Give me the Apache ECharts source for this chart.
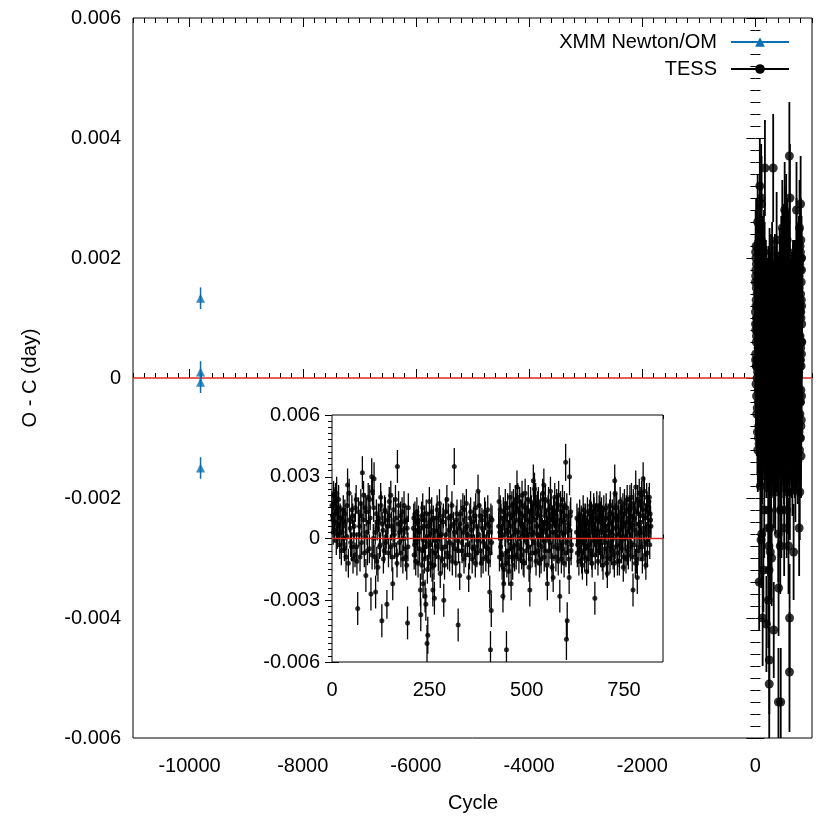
<!DOCTYPE html>
<html>
<head>
<meta charset="utf-8">
<script src="https://cdn.jsdelivr.net/npm/echarts@6/dist/echarts.min.js"></script>
<style>
  html, body { margin: 0; padding: 0; background: #fff; }
  #chart { width: 830px; height: 830px; }
</style>
</head>
<body>
<div id="chart"></div>
<script>
// O-C values in units of 0.001 day: [cycle, O-C, error]
const xmmPoints = [
  [-9806, 1.33, 0.18],
  [-9806, 0.10, 0.18],
  [-9806, -0.07, 0.18],
  [-9806, -1.50, 0.18]
];

// TESS, sector 1
const tessS1 = [
  [0, 1.6, 0.7], [2, 0.9, 0.6], [4, 2.1, 0.7], [6, 0.4, 0.6], [8, 1.8, 0.7], [10, 1.2, 0.6],
  [12, 2.2, 0.8], [14, 0.2, 0.7], [16, 1.5, 0.6], [18, 0.7, 0.7], [20, -0.3, 0.7], [23, 1.0, 0.6],
  [26, 0.3, 0.7], [29, 1.4, 0.7], [32, -0.5, 0.6], [35, 0.8, 0.7], [38, 0.1, 0.6], [40, 2.6, 0.8],
  [42, -1.2, 0.7], [44, 2.2, 0.7], [47, 0.5, 0.6], [50, -0.4, 0.7], [53, 1.1, 0.6], [56, 0.2, 0.7],
  [59, -0.8, 0.6], [62, 1.9, 0.7], [64, -1.1, 0.7], [66, -3.4, 0.8], [68, 1.3, 0.7], [71, 0.6, 0.6],
  [74, 1.7, 0.7], [76, -0.2, 0.6], [78, 3.2, 0.8], [80, 0.9, 0.7], [83, -0.7, 0.7], [85, 1.5, 0.7],
  [87, -1.8, 0.8], [90, 0.3, 0.6], [93, 2.0, 0.7], [96, -0.5, 0.7], [98, 1.0, 0.6], [100, -2.7, 0.8],
  [102, 3.0, 0.9], [104, 2.3, 0.7], [106, 0.0, 0.7], [108, 2.9, 0.8], [110, -0.9, 0.6], [112, -2.6, 0.8],
  [114, 1.2, 0.7], [116, 0.5, 0.6], [118, -1.4, 0.7], [121, 0.8, 0.7], [124, -0.3, 0.6], [126, 1.6, 0.7],
  [128, -4.0, 0.8], [131, 0.4, 0.7], [134, -0.6, 0.6], [137, 1.3, 0.7], [139, 0.1, 0.6], [141, -3.2, 0.7],
  [144, 0.9, 0.7], [147, 1.8, 0.7], [150, -0.4, 0.6], [153, 0.6, 0.7], [156, -2.2, 0.8], [158, 1.4, 0.6],
  [160, 0.2, 0.7], [163, 1.9, 0.7], [166, -0.8, 0.6], [168, 3.5, 0.8], [170, 0.7, 0.7], [173, -0.2, 0.6],
  [176, 1.1, 0.7], [179, 0.4, 0.6], [182, -1.0, 0.7], [185, 1.6, 0.7], [188, -0.5, 0.6], [190, 0.9, 0.7],
  [192, -1.3, 0.7], [194, -4.1, 0.8], [196, 1.5, 0.7],
  [1, 1.1, 0.7], [3, 0.3, 0.6], [5, 1.7, 0.7], [7, 0.8, 0.6], [9, 2.0, 0.7], [11, -0.1, 0.7],
  [13, 1.3, 0.6], [15, 0.6, 0.7], [17, 1.9, 0.7], [19, 0.2, 0.6], [21, 1.0, 0.7], [24, -0.6, 0.7],
  [27, 0.9, 0.6], [30, 0.0, 0.7], [33, 1.2, 0.7], [36, -0.9, 0.7], [39, 1.6, 0.7], [45, 0.9, 0.6],
  [48, -0.2, 0.7], [51, 1.4, 0.7], [54, -1.0, 0.7], [57, 0.6, 0.6], [60, 1.5, 0.7], [63, -0.4, 0.7],
  [69, 0.2, 0.6], [72, -0.9, 0.7], [75, 1.1, 0.7], [81, 2.1, 0.7], [84, 0.1, 0.6], [88, 1.3, 0.7],
  [91, -0.6, 0.7], [94, 0.8, 0.6], [97, 1.9, 0.7], [103, -0.8, 0.7], [107, 1.5, 0.7], [111, 0.3, 0.6],
  [115, -1.1, 0.7], [119, 1.0, 0.7], [122, -0.4, 0.6], [125, 2.0, 0.7], [129, 0.7, 0.6], [132, -1.0, 0.7],
  [135, 1.4, 0.7], [138, -0.2, 0.6], [142, 0.6, 0.7], [145, -0.7, 0.7], [148, 1.1, 0.6], [151, 2.1, 0.7],
  [154, -0.9, 0.7], [157, 0.4, 0.6], [161, -0.3, 0.7], [164, 1.0, 0.7], [167, -1.2, 0.7], [171, 1.6, 0.7],
  [174, 0.3, 0.6], [177, -0.7, 0.7], [180, 1.3, 0.7], [183, 0.0, 0.6], [186, 0.8, 0.7], [189, -0.9, 0.7],
  [193, 0.5, 0.6], [195, -0.4, 0.7]
];

// TESS, sector 2
const tessS2 = [
  [209, 0.5, 0.7], [211, -0.8, 0.7], [213, 1.2, 0.6], [216, -0.2, 0.7], [219, 0.8, 0.6], [221, -1.2, 0.7],
  [224, 0.3, 0.7], [227, -2.5, 0.8], [228, -3.7, 0.8], [230, 1.1, 0.7], [232, -0.6, 0.6], [234, -2.2, 0.7],
  [236, 0.6, 0.7], [239, -2.8, 0.8], [241, -3.2, 0.8], [243, 0.1, 0.6], [244, -5.1, 0.9], [246, -4.7, 0.9],
  [248, -0.9, 0.7], [250, 1.8, 0.7], [252, -0.3, 0.6], [255, 0.9, 0.7], [257, -1.4, 0.7], [259, -2.5, 0.8],
  [261, 0.4, 0.6], [263, -2.9, 0.8], [265, -0.7, 0.7], [268, 1.0, 0.7], [271, -0.1, 0.6], [274, 0.6, 0.7],
  [276, 1.7, 0.7], [278, -1.7, 0.7], [280, 0.2, 0.6], [283, -1.0, 0.7], [285, 0.8, 0.7], [287, -3.0, 0.8],
  [290, -0.4, 0.6], [292, 1.3, 0.7], [295, 1.9, 0.7], [297, -0.9, 0.6], [300, 0.4, 0.7], [303, -0.2, 0.6],
  [306, 1.1, 0.7], [309, -1.1, 0.7], [312, 0.7, 0.6], [314, 3.5, 0.9], [316, -0.5, 0.7], [319, 0.9, 0.7],
  [322, -0.1, 0.6], [324, -4.2, 0.8], [326, 0.5, 0.7], [328, -1.8, 0.7], [331, 1.2, 0.7], [334, -0.6, 0.6],
  [337, 0.3, 0.7], [340, 1.4, 0.7], [343, -0.8, 0.6], [346, 0.6, 0.7], [348, -0.3, 0.6], [351, -1.9, 0.7],
  [354, 1.0, 0.7], [357, 0.1, 0.6], [360, -1.0, 0.7], [363, 0.8, 0.7], [366, -0.4, 0.6], [369, 1.5, 0.7],
  [372, -0.7, 0.7], [375, 2.3, 0.8], [377, 0.2, 0.7], [380, 1.1, 0.6], [383, -1.2, 0.7], [386, 0.5, 0.7],
  [389, -0.2, 0.6], [392, 1.3, 0.7], [395, -0.9, 0.7], [398, 0.7, 0.6], [401, -0.5, 0.7], [403, 0.3, 0.6],
  [405, -2.6, 0.8], [407, -5.4, 0.9], [409, -3.5, 0.8], [411, 0.9, 0.7],
  [210, 1.0, 0.7], [212, -0.3, 0.6], [214, 0.4, 0.7], [215, -1.1, 0.7], [218, 1.3, 0.7], [220, 0.0, 0.6],
  [222, 0.9, 0.7], [225, -0.5, 0.7], [229, 0.5, 0.6], [231, -1.3, 0.7], [233, 1.5, 0.7], [235, -0.1, 0.6],
  [237, -1.0, 0.7], [238, 0.9, 0.7], [240, -0.4, 0.6], [242, 1.2, 0.7], [245, -1.5, 0.7], [247, 0.6, 0.7],
  [249, -0.2, 0.6], [251, 0.8, 0.7], [253, -1.2, 0.7], [254, 0.2, 0.6], [256, 1.3, 0.7], [258, -0.6, 0.7],
  [260, 1.0, 0.6], [262, -1.3, 0.7], [264, 0.3, 0.7], [267, -0.4, 0.6], [270, 1.4, 0.7], [273, -0.9, 0.7],
  [277, 0.1, 0.6], [279, 0.9, 0.7], [282, -0.5, 0.7], [286, 1.1, 0.6], [289, -1.3, 0.7], [293, 0.2, 0.7],
  [296, -0.7, 0.6], [299, 1.0, 0.7], [302, -0.9, 0.7], [305, 0.6, 0.6], [308, 1.6, 0.7], [311, -0.3, 0.7],
  [315, 0.3, 0.6], [318, -1.2, 0.7], [321, 1.2, 0.7], [325, -0.6, 0.6], [329, 0.7, 0.7], [333, -0.2, 0.7],
  [336, 1.5, 0.7], [339, -1.0, 0.7], [342, 0.5, 0.6], [345, 1.7, 0.7], [349, 0.2, 0.6], [353, -0.8, 0.7],
  [356, 1.3, 0.7], [359, 0.4, 0.6], [362, -0.5, 0.7], [365, 1.1, 0.7], [368, -1.2, 0.7], [371, 0.6, 0.6],
  [374, -0.1, 0.7], [378, 1.6, 0.7], [381, -0.6, 0.7], [385, 0.9, 0.6], [388, -1.0, 0.7], [391, 0.1, 0.6],
  [394, 1.1, 0.7], [397, -0.4, 0.7], [400, 1.4, 0.7], [402, -1.1, 0.7], [404, 0.6, 0.6], [406, -0.7, 0.7],
  [408, 1.0, 0.7], [410, -0.2, 0.6]
];

// TESS, sector 3
const tessS3 = [
  [428, 0.6, 0.7], [430, -0.9, 0.7], [432, 1.4, 0.7], [435, 0.1, 0.6], [437, -1.3, 0.7], [439, -2.8, 0.8],
  [441, -2.2, 0.8], [443, 0.9, 0.7], [445, 1.7, 0.7], [448, -5.4, 0.9], [450, 0.4, 0.6], [452, -0.6, 0.7],
  [454, -1.6, 0.7], [456, 1.2, 0.7], [458, 0.0, 0.6], [460, -2.2, 0.8], [462, 1.6, 0.7], [465, -0.4, 0.7],
  [468, 0.8, 0.6], [471, 1.9, 0.7], [473, -0.8, 0.7], [475, 2.5, 0.8], [478, 0.3, 0.6], [481, 1.3, 0.7],
  [484, -0.5, 0.7], [486, 0.7, 0.6], [488, 2.1, 0.7], [491, -1.1, 0.7], [494, 0.5, 0.7], [497, 1.5, 0.7],
  [500, -0.2, 0.6], [503, 0.9, 0.7], [506, -1.4, 0.7], [508, -2.5, 0.8], [510, 1.8, 0.7], [513, 0.2, 0.6],
  [515, 1.0, 0.7], [517, 2.8, 0.8], [520, 2.4, 0.8], [522, -0.7, 0.7], [525, 0.6, 0.6], [528, 1.6, 0.7],
  [531, -0.3, 0.6], [534, 1.1, 0.7], [537, -1.0, 0.7], [540, 0.4, 0.6], [542, 1.9, 0.7], [544, 2.6, 0.8],
  [547, -0.6, 0.7], [550, 0.8, 0.6], [553, -2.2, 0.8], [555, 1.4, 0.7], [558, 0.1, 0.6], [561, 2.3, 0.7],
  [564, -0.9, 0.7], [566, 0.9, 0.7], [568, -1.9, 0.7], [571, 1.2, 0.7], [574, 0.3, 0.6], [577, 1.7, 0.7],
  [580, -0.5, 0.7], [583, 0.6, 0.6], [585, -2.8, 0.8], [588, 1.3, 0.7], [591, -0.2, 0.6], [594, 0.9, 0.7],
  [597, 1.6, 0.7], [600, 3.7, 0.9], [602, -4.9, 1.0], [604, -4.0, 0.9], [606, 0.5, 0.7], [609, -1.9, 0.8],
  [610, 3.0, 0.9], [612, 1.1, 0.7], [614, -0.6, 0.7],
  [429, 1.8, 0.7], [431, 0.3, 0.6], [433, -0.4, 0.7], [434, 1.0, 0.7], [436, -0.8, 0.7], [438, 0.5, 0.6],
  [440, 1.3, 0.7], [442, -1.5, 0.7], [444, 0.2, 0.6], [446, -0.7, 0.7], [447, 1.1, 0.7], [449, -1.2, 0.7],
  [451, 1.5, 0.7], [453, 0.3, 0.6], [455, -0.9, 0.7], [457, 2.0, 0.7], [459, 0.6, 0.6], [461, -0.5, 0.7],
  [463, 1.0, 0.7], [464, -1.3, 0.7], [466, 1.7, 0.7], [467, 0.2, 0.6], [469, -0.9, 0.7], [470, 1.2, 0.7],
  [472, 0.4, 0.6], [474, 1.5, 0.7], [476, -0.3, 0.7], [477, 2.0, 0.7], [479, 0.9, 0.6], [480, -1.0, 0.7],
  [482, 1.8, 0.7], [483, 0.0, 0.6], [485, 1.2, 0.7], [487, -0.8, 0.7], [489, 0.6, 0.6], [490, 1.6, 0.7],
  [492, 0.2, 0.6], [493, -1.2, 0.7], [495, 1.1, 0.7], [496, 2.2, 0.7], [498, 0.4, 0.6], [499, -0.6, 0.7],
  [501, 1.3, 0.7], [502, 0.1, 0.6], [504, 1.9, 0.7], [505, -0.4, 0.7], [507, 0.8, 0.6], [509, -1.0, 0.7],
  [511, 0.5, 0.6], [512, 1.4, 0.7], [514, -0.7, 0.7], [516, 0.3, 0.6], [518, 1.7, 0.7], [519, -0.2, 0.6],
  [521, 0.9, 0.7], [523, 2.0, 0.7], [524, -1.1, 0.7], [526, 1.2, 0.7], [527, 0.2, 0.6], [529, -0.6, 0.7],
  [530, 1.8, 0.7], [532, 0.6, 0.6], [533, -1.2, 0.7], [535, 0.1, 0.6], [536, 1.5, 0.7], [538, 0.8, 0.6],
  [539, -0.4, 0.7], [541, 2.2, 0.7], [543, 0.3, 0.6], [545, -0.9, 0.7], [546, 1.1, 0.7], [548, 1.9, 0.7],
  [549, -0.1, 0.6], [551, 0.7, 0.7], [552, -1.3, 0.7], [554, 0.5, 0.6], [556, 1.8, 0.7], [557, -0.6, 0.7],
  [559, 1.0, 0.7], [560, -0.2, 0.6], [562, 0.6, 0.7], [563, 1.5, 0.7], [565, -1.4, 0.7], [567, 0.3, 0.6],
  [569, 1.3, 0.7], [570, -0.4, 0.7], [572, 2.0, 0.7], [573, 0.7, 0.6], [575, -0.9, 0.7], [576, 0.9, 0.7],
  [578, 0.1, 0.6], [579, 1.4, 0.7], [581, -1.1, 0.7], [582, 2.1, 0.7], [584, 0.4, 0.6], [586, -0.3, 0.7],
  [587, 1.6, 0.7], [589, -1.0, 0.7], [590, 0.8, 0.6], [592, 1.9, 0.7], [593, -0.5, 0.7], [595, 0.2, 0.6],
  [596, -1.2, 0.7], [598, 1.1, 0.7], [599, 0.3, 0.6], [601, -0.7, 0.7], [603, 1.5, 0.7], [605, -0.2, 0.6],
  [607, 0.7, 0.7], [608, -1.0, 0.7], [611, 0.4, 0.6], [613, 1.3, 0.7], [615, -0.3, 0.7]
];

// TESS, sector 4
const tessS4 = [
  [628, 0.3, 0.7], [630, -0.7, 0.7], [632, 0.9, 0.6], [635, -0.2, 0.7], [638, 0.6, 0.6], [641, -1.0, 0.7],
  [644, 0.4, 0.7], [647, 1.1, 0.6], [650, -0.5, 0.7], [652, 0.2, 0.6], [654, -1.6, 0.7], [657, 0.8, 0.7],
  [660, -0.3, 0.6], [662, 1.2, 0.7], [664, 1.6, 0.7], [667, -0.8, 0.7], [670, 0.5, 0.6], [673, 1.3, 0.7],
  [675, -2.9, 0.8], [678, 0.0, 0.6], [681, 0.9, 0.7], [684, -0.6, 0.7], [686, 1.4, 0.7], [688, 1.6, 0.7],
  [691, 0.3, 0.6], [694, -0.9, 0.7], [697, 0.7, 0.7], [700, -0.2, 0.6], [703, 1.0, 0.7], [705, -1.2, 0.7],
  [707, -1.7, 0.7], [710, 0.4, 0.6], [713, 1.2, 0.7], [716, -0.4, 0.7], [719, 0.8, 0.6], [722, -0.8, 0.7],
  [724, 1.5, 0.7], [726, 2.8, 0.8], [727, 2.2, 0.8], [730, 0.2, 0.6], [733, -1.1, 0.7], [736, 0.9, 0.7],
  [739, -0.3, 0.6], [742, 1.3, 0.7], [745, 0.5, 0.6], [748, -1.4, 0.7], [751, 1.7, 0.7], [754, 0.1, 0.6],
  [756, 1.4, 0.7], [759, -0.6, 0.7], [762, 1.0, 0.7], [765, 1.9, 0.7], [768, -0.2, 0.6], [770, 0.7, 0.7],
  [773, -2.5, 0.8], [775, 1.5, 0.7], [778, 0.4, 0.6], [780, 2.5, 0.8], [782, -1.0, 0.7], [784, -1.9, 0.8],
  [787, 1.2, 0.7], [790, 0.3, 0.6], [793, 1.8, 0.7], [796, -0.4, 0.7], [799, 2.9, 0.8], [801, 1.1, 0.7],
  [804, -0.8, 0.7], [806, -1.3, 0.7], [809, 1.6, 0.7], [812, 0.6, 0.6], [815, 2.0, 0.7], [818, 0.9, 0.7],
  [629, 1.0, 0.7], [631, -0.3, 0.6], [633, 0.5, 0.7], [634, -1.1, 0.7], [636, 1.2, 0.7], [637, 0.0, 0.6],
  [639, -0.6, 0.7], [640, 0.9, 0.7], [642, 0.2, 0.6], [643, -1.3, 0.7], [645, 1.4, 0.7], [646, -0.2, 0.6],
  [648, 0.6, 0.7], [649, -0.9, 0.7], [651, 1.0, 0.7], [653, 0.4, 0.6], [655, -0.4, 0.7], [656, 1.3, 0.7],
  [658, -1.0, 0.7], [659, 0.1, 0.6], [661, 0.8, 0.7], [663, -0.6, 0.7], [665, 0.3, 0.6], [666, 1.1, 0.7],
  [668, -1.2, 0.7], [669, 0.7, 0.7], [671, -0.1, 0.6], [672, 1.5, 0.7], [674, 0.2, 0.6], [676, -0.8, 0.7],
  [677, 1.0, 0.7], [679, -0.3, 0.6], [680, 1.6, 0.7], [682, 0.4, 0.6], [683, -1.1, 0.7], [685, 0.8, 0.7],
  [687, -0.2, 0.6], [689, 1.1, 0.7], [690, -0.7, 0.7], [692, 1.3, 0.7], [693, 0.0, 0.6], [695, 0.9, 0.7],
  [696, -1.3, 0.7], [698, 1.4, 0.7], [699, 0.3, 0.6], [701, -0.5, 0.7], [702, 0.6, 0.7], [704, 1.5, 0.7],
  [706, 0.1, 0.6], [708, -0.9, 0.7], [709, 1.0, 0.7], [711, -0.2, 0.6], [712, 0.7, 0.7], [714, -1.0, 0.7],
  [715, 1.6, 0.7], [717, 0.3, 0.6], [718, -0.6, 0.7], [720, 1.2, 0.7], [721, 0.0, 0.6], [723, 0.5, 0.7],
  [725, -1.2, 0.7], [728, 1.0, 0.7], [729, -0.4, 0.6], [731, 1.5, 0.7], [732, 0.6, 0.6], [734, -0.7, 0.7],
  [735, 1.1, 0.7], [737, 0.2, 0.6], [738, -1.1, 0.7], [740, 1.8, 0.7], [741, 0.4, 0.6], [743, -0.5, 0.7],
  [744, 1.0, 0.7], [746, -0.1, 0.6], [747, 1.5, 0.7], [749, 0.7, 0.6], [750, -0.9, 0.7], [752, 1.2, 0.7],
  [753, 0.0, 0.6], [755, -1.0, 0.7], [757, 0.8, 0.7], [758, 1.9, 0.7], [760, 0.3, 0.6], [761, -0.8, 0.7],
  [763, 1.4, 0.7], [764, 0.5, 0.6], [766, -0.4, 0.7], [767, 1.1, 0.7], [769, 2.0, 0.7], [771, -0.9, 0.7],
  [772, 0.6, 0.6], [774, 1.7, 0.7], [776, -0.3, 0.6], [777, 1.0, 0.7], [779, -1.2, 0.7], [781, 1.3, 0.7],
  [783, 0.2, 0.6], [785, 1.9, 0.7], [786, -0.6, 0.7], [788, 0.7, 0.6], [789, 2.2, 0.7], [791, -0.4, 0.7],
  [792, 1.1, 0.7], [794, 0.3, 0.6], [795, 2.1, 0.7], [797, -1.0, 0.7], [798, 1.4, 0.7], [800, 0.5, 0.6],
  [802, 2.3, 0.7], [803, -0.2, 0.6], [805, 1.0, 0.7], [807, 0.2, 0.6], [808, 2.0, 0.7], [810, -0.7, 0.7],
  [811, 1.3, 0.7], [813, 0.4, 0.6], [814, 1.8, 0.7], [816, -0.3, 0.7], [817, 1.2, 0.7], [819, 0.6, 0.6]
];

const tessPoints = tessS1.concat(tessS2, tessS3, tessS4);

// tick labels
const mainXTicks = [-10000, -8000, -6000, -4000, -2000, 0];
const insetXTicks = [0, 250, 500, 750];

const mainXMinor = [];
for (let v = -11000; v <= 1000; v += 200) if (mainXTicks.indexOf(v) < 0) mainXMinor.push(v);
const insetXMinor = [];
for (let v = 25; v <= 850; v += 25) if (insetXTicks.indexOf(v) < 0) insetXMinor.push(v);

const FONT = "Liberation Sans";
const BLUE = "#0a6fb3";
const RED = "#dd2a1e";

const fmtDay = v => (v === 0 ? "0" : (v / 1000).toFixed(3));

function xAxisPair(grid, min, max, major, minor, pos, labels, lenMaj, lenMin) {
  return [
    {
      gridIndex: grid, type: "value", min: min, max: max, position: pos,
      axisLine: { show: false }, splitLine: { show: false },
      axisTick: { inside: true, length: lenMaj, customValues: major, lineStyle: { color: "#000" } },
      axisLabel: labels
        ? { show: true, customValues: major, formatter: v => String(v), margin: 18, fontSize: 20, fontFamily: FONT, color: "#000" }
        : { show: false }
    },
    {
      gridIndex: grid, type: "value", min: min, max: max, position: pos,
      axisLine: { show: false }, splitLine: { show: false },
      axisTick: { inside: true, length: lenMin, customValues: minor, lineStyle: { color: "#000" } },
      axisLabel: { show: false }
    }
  ];
}

function yAxisOne(grid, interval, pos, labels, lenMaj, lenMin, extra) {
  return Object.assign({
    gridIndex: grid, type: "value", min: -6, max: 6, interval: interval, position: pos,
    axisLine: { show: false }, splitLine: { show: false },
    axisTick: { inside: true, length: lenMaj, lineStyle: { color: "#000" } },
    minorTick: { show: true, splitNumber: 10, length: lenMin, lineStyle: { color: "#000" } },
    axisLabel: labels
      ? { show: true, formatter: fmtDay, margin: 12, fontSize: 20, fontFamily: FONT, color: "#000" }
      : { show: false }
  }, extra || {});
}

// error bar drawn as a vertical segment, clipped to the plot box
function errorBar(width) {
  return function (params, api) {
    const cs = params.coordSys;
    const x = api.coord([api.value(0), api.value(1)])[0];
    let y1 = api.coord([api.value(0), api.value(1) + api.value(2)])[1];
    let y2 = api.coord([api.value(0), api.value(1) - api.value(2)])[1];
    y1 = Math.max(y1, cs.y);
    y2 = Math.min(y2, cs.y + cs.height);
    if (x < cs.x || x > cs.x + cs.width) return null;
    return {
      type: "line",
      shape: { x1: x, y1: y1, x2: x, y2: y2 },
      style: { stroke: api.visual("color"), lineWidth: width }
    };
  };
}

const chart = echarts.init(document.getElementById("chart"));

chart.setOption({
  animation: false,
  backgroundColor: "#fff",
  textStyle: { fontFamily: FONT },
  grid: [
    { left: 133, top: 18, width: 679, height: 720, show: true, borderColor: "#000", borderWidth: 1, backgroundColor: "#fff" },
    { left: 332, top: 415, width: 331, height: 247, show: true, borderColor: "#000", borderWidth: 1, backgroundColor: "#fff", z: 5 }
  ],
  legend: {
    data: ["XMM Newton/OM", "TESS"],
    orient: "vertical",
    right: 35,
    top: 27,
    align: "right",
    itemWidth: 58,
    itemHeight: 12,
    itemGap: 7,
    textStyle: { fontSize: 20, fontFamily: FONT, color: "#000", padding: [0, 9, 0, 0] },
    selectedMode: false
  },
  xAxis: [].concat(
    xAxisPair(0, -11000, 1000, mainXTicks, mainXMinor, "bottom", true, 9, 5),
    xAxisPair(0, -11000, 1000, mainXTicks, mainXMinor, "top", false, 9, 5),
    xAxisPair(1, 0, 850, insetXTicks, insetXMinor, "bottom", true, 7, 4),
    xAxisPair(1, 0, 850, insetXTicks, insetXMinor, "top", false, 7, 4)
  ),
  yAxis: [
    yAxisOne(0, 2, "left", true, 9, 5, {
      name: "O - C (day)", nameLocation: "middle", nameGap: 93, nameRotate: 90,
      nameTextStyle: { fontSize: 20, fontFamily: FONT, color: "#000" }
    }),
    yAxisOne(0, 2, "right", false, 9, 5),
    yAxisOne(1, 3, "left", true, 7, 4),
    yAxisOne(1, 3, "right", false, 7, 4)
  ],
  graphic: [
    { type: "text", left: 448, top: 793, style: { text: "Cycle", font: "20px " + FONT, fill: "#000" } }
  ],
  series: [
    // zero lines
    {
      name: "zero", type: "line", xAxisIndex: 0, yAxisIndex: 0, symbol: "none", z: 1,
      data: [[-11000, 0], [1000, 0]], lineStyle: { color: RED, width: 1.5 }
    },
    {
      name: "zero inset", type: "line", xAxisIndex: 4, yAxisIndex: 2, symbol: "none", z: 9,
      data: [[0, 0], [850, 0]], lineStyle: { color: RED, width: 1.5 }
    },
    // legend entries
    {
      name: "XMM Newton/OM", type: "line", data: [], symbol: "triangle", symbolSize: 8,
      itemStyle: { color: BLUE }, lineStyle: { color: BLUE, width: 1.5 }
    },
    {
      name: "TESS", type: "line", data: [], symbol: "circle", symbolSize: 9,
      itemStyle: { color: "#000" }, lineStyle: { color: "#000", width: 1.5 }
    },
    // main plot
    {
      name: "xmm err", type: "custom", xAxisIndex: 0, yAxisIndex: 0, z: 3,
      renderItem: errorBar(1.5), itemStyle: { color: BLUE }, data: xmmPoints
    },
    {
      name: "xmm pts", type: "scatter", xAxisIndex: 0, yAxisIndex: 0, z: 4,
      symbol: "triangle", symbolSize: 9, itemStyle: { color: BLUE }, data: xmmPoints
    },
    {
      name: "tess err", type: "custom", xAxisIndex: 0, yAxisIndex: 0, z: 3,
      renderItem: errorBar(1.8), itemStyle: { color: "#000" }, data: tessPoints
    },
    {
      name: "tess pts", type: "scatter", xAxisIndex: 0, yAxisIndex: 0, z: 4,
      symbol: "circle", symbolSize: 9, itemStyle: { color: "#000" }, data: tessPoints
    },
    // inset
    {
      name: "tess err inset", type: "custom", xAxisIndex: 4, yAxisIndex: 2, z: 7,
      renderItem: errorBar(1.3), itemStyle: { color: "#000" }, data: tessPoints
    },
    {
      name: "tess pts inset", type: "scatter", xAxisIndex: 4, yAxisIndex: 2, z: 8,
      symbol: "circle", symbolSize: 5, itemStyle: { color: "#000" }, data: tessPoints
    }
  ]
});
</script>
</body>
</html>
